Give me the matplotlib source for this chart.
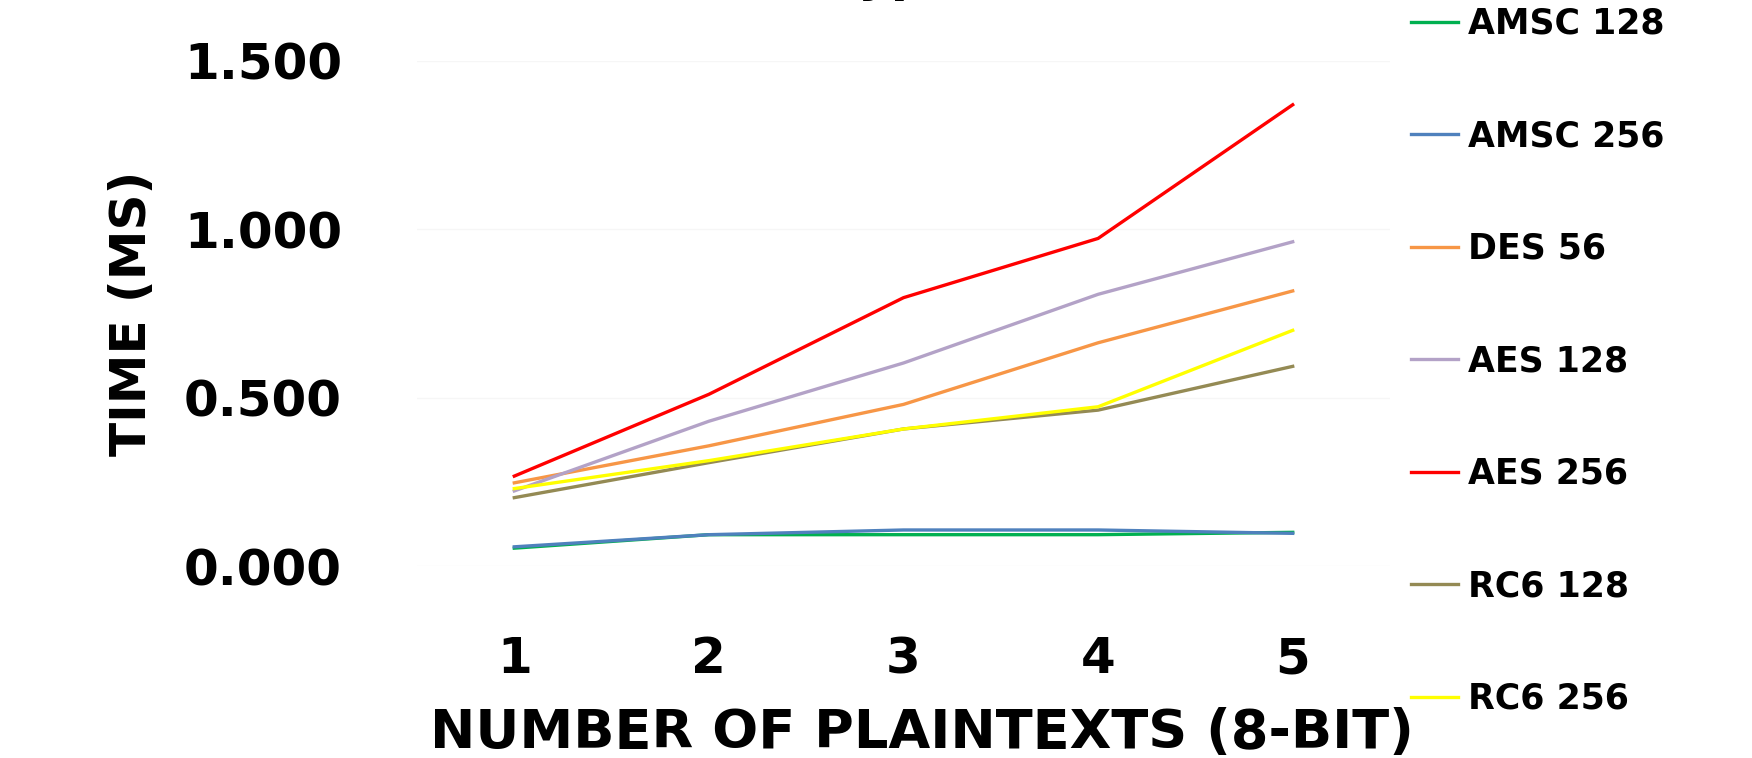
import matplotlib
matplotlib.use('Agg')
import matplotlib.pyplot as plt

plt.rcParams['font.family'] = 'DejaVu Sans'
plt.rcParams['font.weight'] = 'bold'
plt.rcParams['axes.labelweight'] = 'bold'

plaintexts = [1, 2, 3, 4, 5]
amsc_128 = [0.053, 0.093, 0.093, 0.093, 0.100]
amsc_256 = [0.057, 0.093, 0.107, 0.107, 0.097]
des_56 = [0.247, 0.357, 0.480, 0.663, 0.817]
aes_128 = [0.223, 0.430, 0.603, 0.807, 0.963]
aes_256 = [0.267, 0.510, 0.797, 0.973, 1.370]
rc6_128 = [0.203, 0.307, 0.407, 0.463, 0.593]
rc6_256 = [0.230, 0.313, 0.407, 0.473, 0.700]

series = [
    ('AMSC 128', amsc_128, '#00b050'),
    ('AMSC 256', amsc_256, '#4f81bd'),
    ('DES 56', des_56, '#f79646'),
    ('AES 128', aes_128, '#b3a2c7'),
    ('AES 256', aes_256, '#ff0000'),
    ('RC6 128', rc6_128, '#948a54'),
    ('RC6 256', rc6_256, '#ffff00'),
]

W, H = 1752, 758
fig = plt.figure(figsize=(W / 100, H / 100), dpi=100)
# plot area in pixels: left 417, right 1390, top 61, bottom 566
ax = fig.add_axes([417 / W, 1 - 566 / H, (1390 - 417) / W, (566 - 61) / H])

for name, vals, col in series:
    ax.plot(plaintexts, vals, color=col, lw=2.4, label=name)

ax.set_xlim(0.5, 5.5)
ax.set_ylim(0, 1.5)
ax.set_xticks(plaintexts)
ax.set_yticks([0, 0.5, 1.0, 1.5])
ax.set_yticklabels(['0.000', '0.500', '1.000', '1.500'])
for s in ax.spines.values():
    s.set_visible(False)
ax.tick_params(length=0, labelsize=36)
ax.tick_params(axis='y', pad=54)
ax.tick_params(axis='x', pad=50)
ax.grid(axis='y', color='#f6f6f6', lw=1)
ax.set_axisbelow(True)

ax.set_xlabel('NUMBER OF PLAINTEXTS (8-BIT)', fontsize=39, labelpad=17)
ax.xaxis.label.set_x(0.519)
ax.set_ylabel('TIME (MS)', fontsize=36, labelpad=20)

# title is mostly cut off at the top edge
fig.text(886 / W, 1 + 9 / H, 'Encryption', fontsize=36, ha='center', va='baseline')

fig.legend(loc='upper left', bbox_to_anchor=(1411 / W, 1 - 7 / H), frameon=False,
           fontsize=25, handlelength=1.35, handletextpad=0.3, labelspacing=2.26,
           borderaxespad=0, borderpad=0)

fig.savefig('out.png', dpi=100)
